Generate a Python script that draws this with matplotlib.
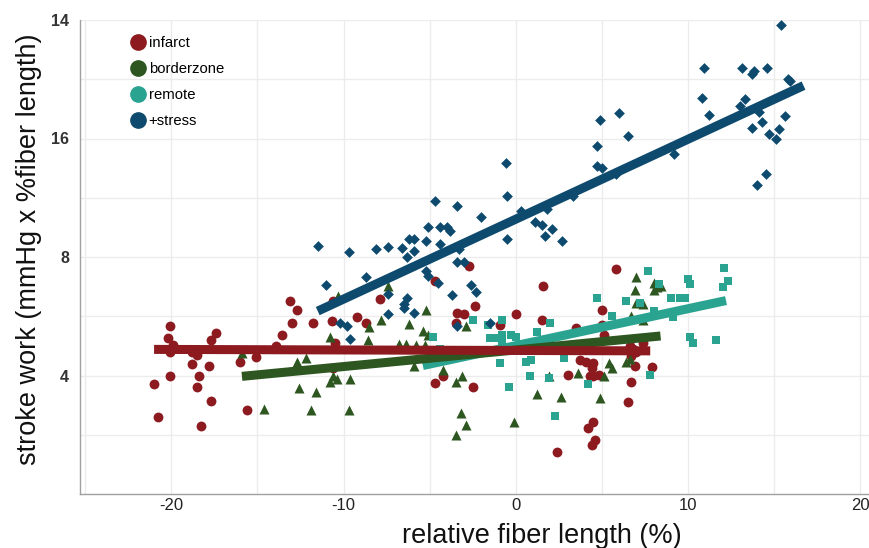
import matplotlib
matplotlib.use("Agg")
import matplotlib.pyplot as plt
from matplotlib.lines import Line2D
from matplotlib.ticker import FixedLocator, FixedFormatter, NullFormatter
import numpy as np

plt.rcParams['font.family'] = ['Liberation Sans', 'DejaVu Sans']

# ---------------- data ----------------
infarct_x = [-20.1, -20.2, -19.9, -20.1, -20.1, -21.0, -20.8, -17.4, -17.7, -18.8, -18.5, -18.8, -17.8, -18.4,
             -18.5, -17.7, -18.3, -16.0, -15.1, -15.6, -13.9, -13.6, -13.1, -12.7, -13.0, -11.8, -10.7, -10.6,
             -10.5, -10.6, -9.2, -8.7, -7.9, -4.7, -2.7, -2.4, -3.4, -3.0, -3.5, 0.0, -0.9, -4.2, -4.7, -2.5,
             5.8, 1.6, 1.5, 3.5, 5.0, 5.0, 5.1, 7.4, 6.6, 6.8, 7.0, 6.7, 3.7, 4.1, 4.5, 4.4, 4.5, 4.8, 4.3,
             3.0, 6.9, 7.9, 6.7, 6.5, 4.5, 4.2, 4.6, 4.4, 2.4]
infarct_y = [5.33, 4.97, 4.77, 4.58, 3.98, 3.80, 3.13, 5.14, 4.91, 4.58, 4.52, 4.27, 4.24, 3.98,
             3.75, 3.44, 2.97, 4.34, 4.47, 3.26, 4.74, 5.08, 6.17, 5.88, 5.45, 5.45, 5.49, 6.17,
             4.85, 4.19, 5.62, 5.45, 6.24, 6.97, 7.57, 6.02, 5.78, 5.72, 5.45, 5.72, 5.39, 3.98, 3.82, 3.75,
             7.44, 6.77, 5.55, 5.27, 5.88, 5.39, 5.06, 4.85, 4.74, 4.66, 4.58, 4.49, 4.37, 4.34, 4.31, 4.19,
             4.00, 4.02, 3.98, 4.02, 4.24, 4.21, 3.86, 3.42, 3.04, 2.95, 2.74, 2.66, 2.56]

border_x = [-15.9, -12.7, -12.2, -12.6, -11.6, -14.6, -11.9, -10.8, -10.6, -10.8, -10.4, -9.7, -9.6, -8.6,
            -8.5, -10.3, -7.4, -5.2, -7.8, -6.2, -5.4, -5.1, -2.9, -6.8, -6.4, -5.8, -5.3, -5.9, -4.2,
            -3.5, -3.1, -3.2, -2.9, -3.5, -0.1, 7.0, 8.0, 8.2, 8.4, 8.0, 6.9, 7.0, 7.4, 6.7, 7.4, 5.4,
            5.6, 5.1, 6.4, 6.6, 3.6, 1.9, 1.2, 2.6, 4.9]
border_y = [4.55, 4.34, 4.44, 3.71, 3.64, 3.28, 3.26, 5.02, 4.00, 3.84, 3.93, 3.26, 3.93, 4.91,
            5.30, 6.35, 6.77, 5.88, 5.52, 5.42, 5.20, 5.08, 5.33, 4.82, 4.80, 4.77, 4.77, 4.24, 4.12,
            3.84, 3.98, 3.22, 2.99, 2.82, 3.04, 7.10, 6.89, 6.73, 6.77, 6.61, 6.58, 6.13, 6.06, 5.65, 5.55, 4.31,
            4.19, 4.00, 4.34, 4.40, 4.05, 4.00, 3.58, 3.52, 3.50]

remote_x = [-4.8, -2.5, -1.6, -0.8, -1.5, -1.2, -0.8, -0.3, 0.0, -0.8, 1.2, 2.0, -0.9, 0.6, 0.9, -4.4,
            0.8, 1.9, -0.4, 2.8, 4.2, 2.3, 4.7, 5.6, 6.4, 7.2, 7.7, 8.3, 9.0, 9.5, 9.8, 9.1, 10.0, 10.1,
            10.1, 10.3, 11.6, 12.1, 12.3, 12.0, 7.8, 8.0]
remote_y = [5.00, 5.52, 5.36, 5.52, 4.97, 4.97, 5.08, 5.08, 5.00, 4.88, 5.17, 5.45, 4.31, 4.34, 4.37, 4.66,
            3.98, 3.95, 3.75, 4.44, 3.80, 3.16, 6.28, 5.68, 6.20, 6.13, 7.39, 6.85, 6.28, 6.31, 6.28, 5.62, 7.05, 6.85,
            5.02, 4.85, 4.91, 7.48, 6.97, 6.73, 4.02, 5.82]

stress_x = [-11.5, -11.0, -9.7, -8.7, -8.1, -7.4, -6.6, -6.2, -5.9, -6.3, -5.9, -5.2, -5.1, -4.7, -4.4, -4.0,
            -3.8, -3.4, -4.4, -3.4, -3.0, -5.2, -5.1, -4.5, -3.7, -2.6, -2.3, -2.0, -3.3, -0.5, -0.5, -7.4,
            -6.3, -6.5, -6.5, -7.4, -5.9, -10.2, -9.8, -9.6, -3.4, -1.5, -0.6, 0.3, 1.1, 1.5, 1.7, 2.1, 2.7,
            3.3, 1.8, 4.7, 4.9, 4.7, 5.0, 6.0, 6.5, 5.8, 15.4, 10.9, 13.1, 13.8, 13.7, 14.6, 15.8, 15.9,
            10.8, 11.2, 13.3, 13.0, 13.7, 14.3, 14.1, 14.7, 15.1, 15.3, 15.6, 14.5, 14.0, 9.2]
stress_y = [8.51, 6.81, 8.26, 7.10, 8.36, 8.46, 8.41, 8.91, 8.91, 7.98, 8.31, 8.76, 9.51, 11.07, 9.56, 9.56,
            9.29, 10.75, 8.61, 7.75, 7.79, 7.35, 7.14, 6.89, 6.42, 6.81, 6.50, 10.08, 8.36, 11.46, 8.91, 6.46,
            6.31, 6.09, 5.95, 5.72, 5.75, 5.45, 5.33, 4.94, 5.33, 5.45, 13.9, 10.5, 9.79, 9.67, 9.02, 9.45, 8.76,
            11.4, 10.6, 15.3, 17.8, 13.6, 13.5, 18.6, 16.2, 13.0, 31.0, 24.1, 24.1, 23.7, 23.3, 24.2, 22.6, 22.4,
            20.3, 18.4, 20.2, 19.4, 17.0, 17.6, 18.7, 16.4, 16.0, 16.9, 18.2, 13.0, 12.2, 14.6]

# regression lines (start, end)
infarct_fit_x = [-21.0, 7.8]
infarct_fit_y = [4.66, 4.62]
border_fit_x = [-15.9, 8.4]
border_fit_y = [3.98, 5.04]
remote_fit_x = [-5.4, 12.2]
remote_fit_y = [4.24, 6.20]
stress_fit_x = [-11.5, 16.7]
stress_fit_y = [5.83, 21.8]

group_names = ["infarct", "borderzone", "remote", "+stress"]
y_major = [4, 8, 16, 32]
y_major_labels = ["4", "8", "16", "14"]
y_minor = [2.83, 5.66, 11.31, 22.63]
x_ticks = [-20, -10, 0, 10, 20]
x_grid = [-25, -20, -15, -10, -5, 0, 5, 10, 15, 20]

c_inf = "#8c1a1f"
c_bor = "#2d5620"
c_rem = "#2aa390"
c_str = "#0e4a6e"

# ---------------- figure ----------------
fig = plt.figure(figsize=(8.69, 5.48), dpi=100)
ax = fig.add_axes([80/869, 1-494/548, 1-80/869, (494-20)/548])
ax.set_yscale('log', base=2)
ax.set_xlim(-25.3, 20.5)
ax.set_ylim(2, 32)

ax.set_axisbelow(True)
for xv in x_grid:
    ax.axvline(xv, color="#ececec", lw=1.0, zorder=0)
for yv in y_major + y_minor:
    ax.axhline(yv, color="#ececec", lw=1.0, zorder=0)

ax.scatter(infarct_x, infarct_y, marker='o', s=50, color=c_inf, zorder=3, linewidths=0)
ax.scatter(border_x, border_y, marker='^', s=52, color=c_bor, zorder=3, linewidths=0)
ax.scatter(remote_x, remote_y, marker='s', s=30, color=c_rem, zorder=3, linewidths=0)
ax.scatter(stress_x, stress_y, marker='D', s=30, color=c_str, zorder=3, linewidths=0)

lw = 6.5
ax.plot(stress_fit_x, stress_fit_y, color=c_str, lw=lw, solid_capstyle='butt', zorder=4)
ax.plot(remote_fit_x, remote_fit_y, color=c_rem, lw=lw, solid_capstyle='butt', zorder=4)
ax.plot(border_fit_x, border_fit_y, color=c_bor, lw=lw, solid_capstyle='butt', zorder=4)
ax.plot(infarct_fit_x, infarct_fit_y, color=c_inf, lw=lw, solid_capstyle='butt', zorder=4)

ax.yaxis.set_major_locator(FixedLocator(y_major))
ax.yaxis.set_major_formatter(FixedFormatter(y_major_labels))
ax.yaxis.set_minor_locator(FixedLocator(y_minor))
ax.yaxis.set_minor_formatter(NullFormatter())
ax.set_xticks(x_ticks)
ax.set_xticklabels([str(v) for v in x_ticks])

for s in ['top', 'right']:
    ax.spines[s].set_visible(False)
for s in ['left', 'bottom']:
    ax.spines[s].set_color("#a0a0a0")
    ax.spines[s].set_linewidth(1.0)
ax.tick_params(axis='both', which='both', length=0)
ax.tick_params(axis='y', pad=8, labelsize=11.5, labelcolor="#333333")
ax.tick_params(axis='x', pad=3, labelsize=12, labelcolor="#222222")
for t in ax.get_yticklabels():
    t.set_fontweight('bold')

ax.set_xlabel("relative fiber length (%)", fontsize=19.5, color="#111111", va='center')
ax.xaxis.set_label_coords((542 - 80) / 789, (494 - 536) / 474)
ax.set_ylabel("stroke work (mmHg x %fiber length)", fontsize=19.5, color="#111111", va='center')
ax.yaxis.set_label_coords((29 - 80) / 789, (494 - 249) / 474)

handles = [Line2D([], [], marker='o', ls='none', ms=11, color=c) for c in (c_inf, c_bor, c_rem, c_str)]
ax.legend(handles, group_names, loc='upper left', bbox_to_anchor=(0.055, 0.978), frameon=False,
          fontsize=10.7, handletextpad=0.1, labelspacing=0.8, handlelength=1.2, borderaxespad=0)

fig.savefig("out.png", dpi=100)
